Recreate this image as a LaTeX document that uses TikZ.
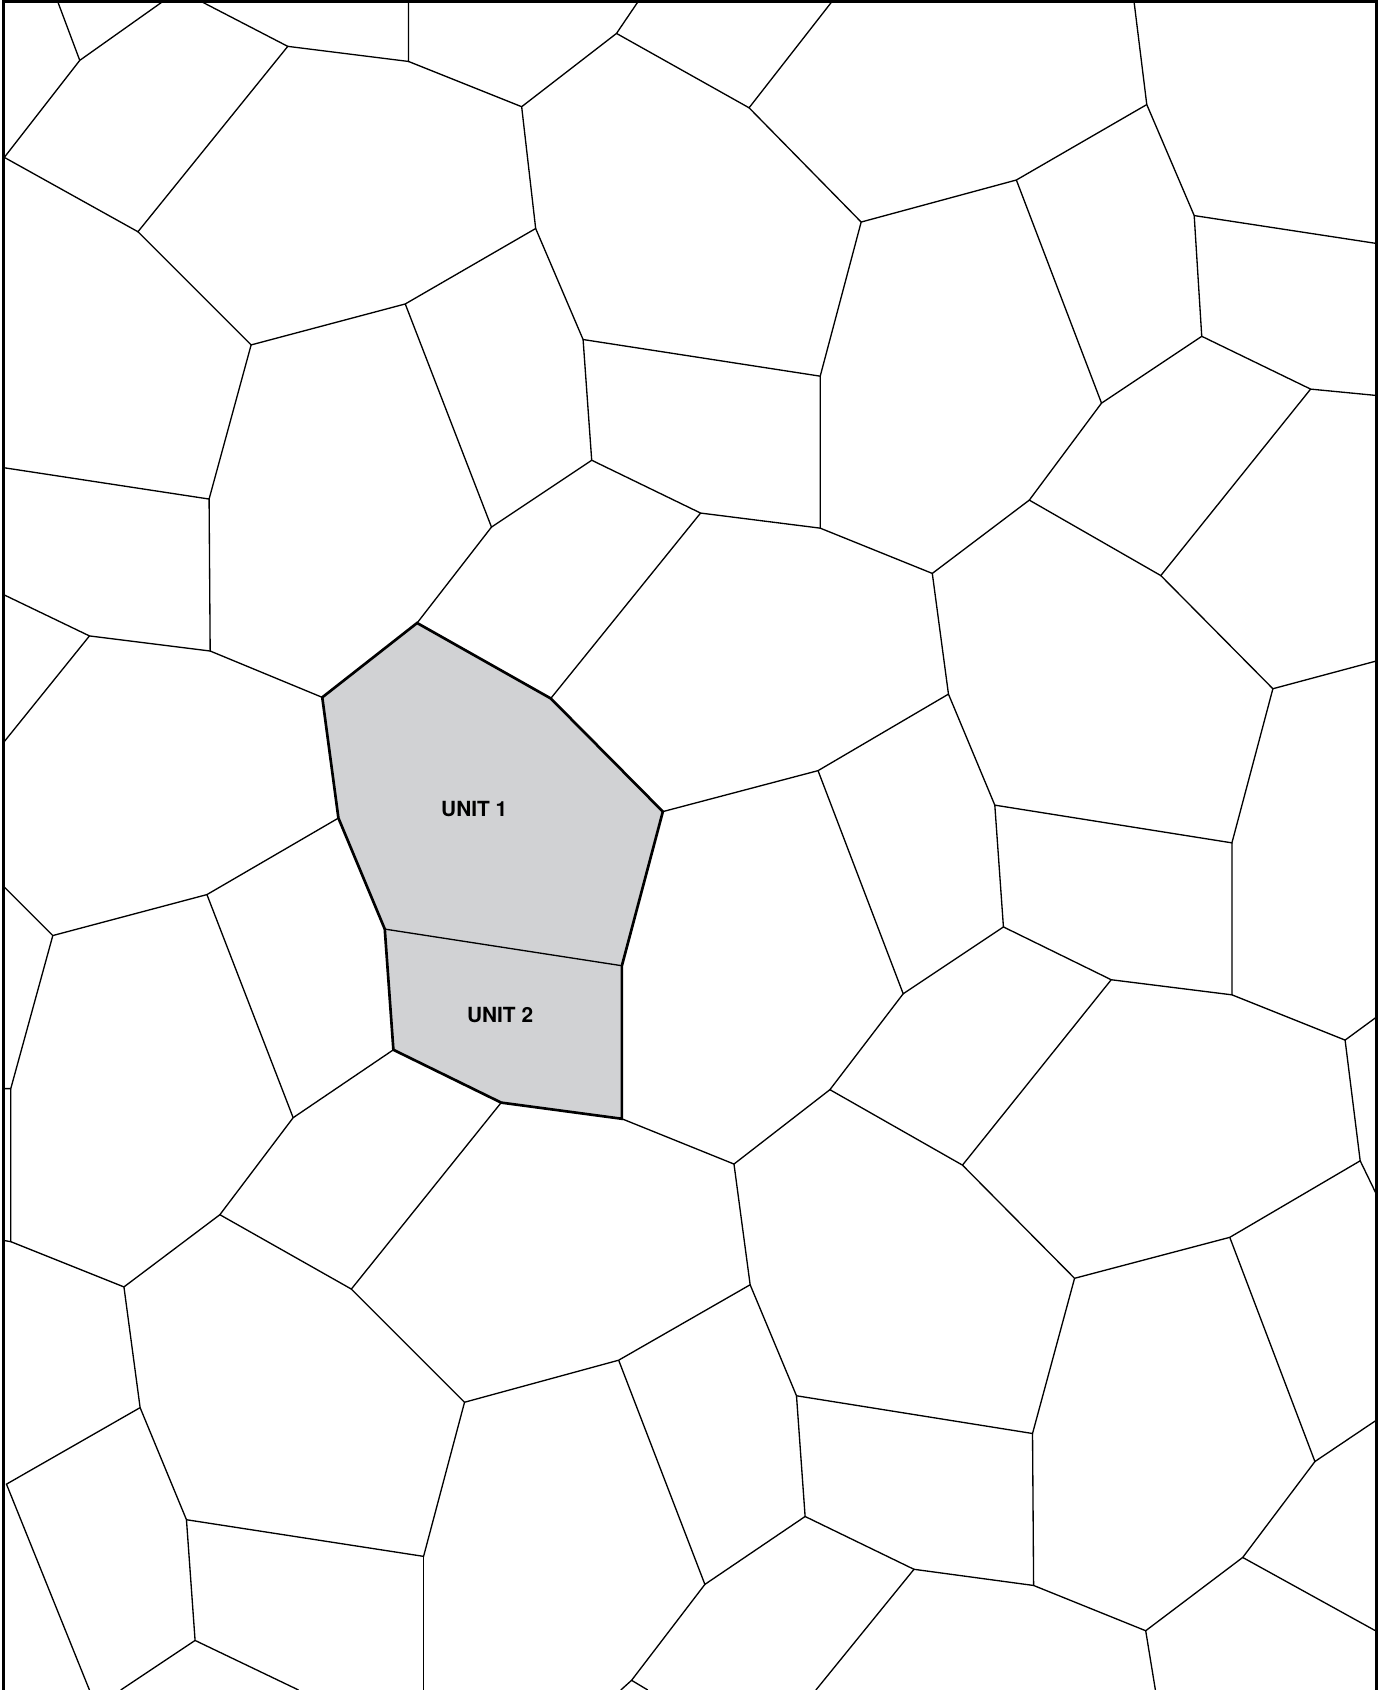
\documentclass[tikz,border=0pt]{standalone}
\usepackage{fontspec}
\usepackage{xcolor}
\usepackage{tikz}
\newfontfamily\lblfont{TeX Gyre Heros}
\definecolor{unitgrey}{RGB}{209,210,212}

\begin{document}
\begin{tikzpicture}[
  x=0.01cm, y=-0.01cm,
  wall/.style={draw, line width=0.35pt, line join=miter},
  unitwall/.style={draw, line width=0.7pt, line join=miter},
  frame/.style={draw, line width=0.75pt},
  lbl/.style={font=\lblfont\bfseries\fontsize{5.5pt}{6pt}\selectfont, inner sep=0pt}
]
\useasboundingbox (0,0) rectangle (1278,1568);

% the two units
\coordinate (u1a) at (387,578);
\coordinate (u1b) at (511,648);
\coordinate (u1c) at (615,753);
\coordinate (u1d) at (577,896);
\coordinate (u1e) at (357,862);
\coordinate (u1f) at (314,759);
\coordinate (u1g) at (299,647);
\coordinate (u2c) at (577,1038);
\coordinate (u2d) at (465,1023);
\coordinate (u2e) at (365,974);

\fill[unitgrey] (u1a) -- (u1b) -- (u1c) -- (u1d) -- (u2c) -- (u2d) -- (u2e) -- (u1e) -- (u1f) -- (u1g) -- cycle;

% frame
\draw[frame] (1277,1568) -- (1277,1.5) -- (3.5,1.5) -- (3.5,1568);

% cells
\draw[wall] (53,0) -- (74,56) -- (153,0);
\draw[wall] (74,56) -- (4,146) -- (128,215) -- (267,43) -- (184,0);
\draw[wall] (267,43) -- (379,57) -- (379,0);
\draw[wall] (379,57) -- (484,99) -- (572,31) -- (593,0);
\draw[wall] (572,31) -- (695,100) -- (773,0);
\draw[wall] (484,99) -- (497,212) -- (376,282) -- (233,320) -- (128,215);
\draw[wall] (695,100) -- (799,206) -- (761,349) -- (541,315) -- (497,212);
\draw[wall] (799,206) -- (943,167) -- (1064,97) -- (1052,0);
\draw[wall] (1064,97) -- (1108,200) -- (1278,226);
\draw[wall] (1108,200) -- (1115,312) -- (1022,374) -- (943,167);
\draw[wall] (1115,312) -- (1216,361) -- (1278,367);
\draw[wall] (1216,361) -- (1077,534) -- (955,464) -- (1022,374);
\draw[wall] (955,464) -- (865,532) -- (761,490) -- (761,349);
\draw[wall] (761,490) -- (650,476) -- (549,427) -- (541,315);
\draw[wall] (549,427) -- (456,489) -- (376,282);
\draw[wall] (456,489) -- (u1a);
\draw[wall] (650,476) -- (u1b);
\draw[wall] (1077,534) -- (1181,639) -- (1278,613);
\draw[wall] (1181,639) -- (1143,782) -- (923,747) -- (880,644) -- (865,532);
\draw[wall] (880,644) -- (759,715) -- (u1c);
\draw[wall] (759,715) -- (838,922) -- (931,860) -- (923,747);
\draw[wall] (931,860) -- (1031,909) -- (1143,923) -- (1143,782);
\draw[wall] (1143,923) -- (1248,965) -- (1278,943);
\draw[wall] (1248,965) -- (1262,1077) -- (1278,1110);
\draw[wall] (1262,1077) -- (1141,1148) -- (997,1186) -- (893,1081) -- (770,1011) -- (838,922);
\draw[wall] (893,1081) -- (1031,909);
\draw[wall] (770,1011) -- (681,1080) -- (u2c);
\draw[wall] (681,1080) -- (696,1192) -- (574,1262) -- (431,1301) -- (326,1196) -- (u2d);
\draw[wall] (696,1192) -- (739,1295) -- (958,1330) -- (997,1186);
\draw[wall] (1141,1148) -- (1220,1356) -- (1278,1317);
\draw[wall] (1220,1356) -- (1153,1445) -- (1278,1514);
\draw[wall] (1153,1445) -- (1063,1513) -- (1072,1568);
\draw[wall] (1063,1513) -- (959,1471) -- (958,1330);
\draw[wall] (959,1471) -- (848,1456) -- (757,1568);
\draw[wall] (848,1456) -- (747,1407) -- (739,1295);
\draw[wall] (747,1407) -- (654,1470) -- (574,1262);
\draw[wall] (654,1470) -- (586,1559) -- (576,1568);
\draw[wall] (586,1559) -- (601,1568);
\draw[wall] (326,1196) -- (204,1127) -- (272,1037) -- (u2e);
\draw[wall] (272,1037) -- (192,830) -- (u1f);
\draw[wall] (192,830) -- (49,868) -- (4,823);
\draw[wall] (49,868) -- (10,1010) -- (4,1010);
\draw[wall] (10,1010) -- (10,1152) -- (4,1151);
\draw[wall] (10,1152) -- (115,1194) -- (204,1127);
\draw[wall] (115,1194) -- (130,1306) -- (6,1377) -- (83,1568);
\draw[wall] (130,1306) -- (173,1410) -- (393,1444) -- (431,1301);
\draw[wall] (393,1444) -- (393,1568);
\draw[wall] (173,1410) -- (181,1522) -- (112,1568);
\draw[wall] (181,1522) -- (277,1568);
\draw[wall] (4,434) -- (194,463) -- (233,320);
\draw[wall] (194,463) -- (195,604) -- (u1g);
\draw[wall] (195,604) -- (83,590) -- (4,552);
\draw[wall] (83,590) -- (4,688);

% unit outlines
\draw[wall] (u1e) -- (u1d);
\draw[unitwall] (u1e) -- (u1f) -- (u1g) -- (u1a) -- (u1b) -- (u1c) -- (u1d) -- (u2c) -- (u2d) -- (u2e) -- cycle;

\node[lbl] (unit1) at (440,751) {UNIT 1};
\node[lbl] (unit2) at (464,942) {UNIT 2};

\end{tikzpicture}
\end{document}
